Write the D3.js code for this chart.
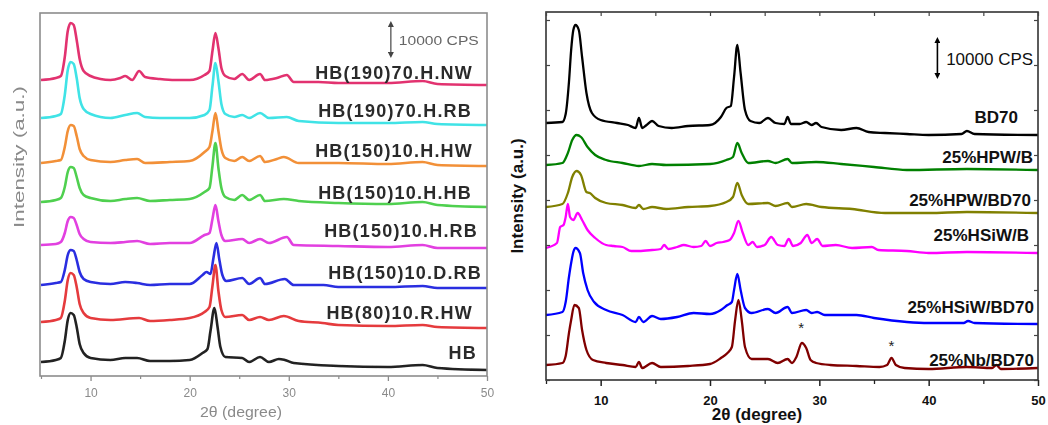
<!DOCTYPE html>
<html><head><meta charset="utf-8">
<script src="https://cdn.jsdelivr.net/npm/d3@7"></script>
<style>body{margin:0;background:#fff}svg{display:block}</style>
</head><body>
<svg id="c" width="1048" height="425"></svg>
<script>
// ---------------- DATA (2θ in degrees, intensity in a.u., stacked) ----------------
const xTicks = [10, 20, 30, 40, 50];
const xMinorTicks = [5, 15, 25, 35, 45];
const scaleBarText = "10000 CPS";
const starMarks = [[28.35, 56], [36.6, 38]]; // asterisks above 25%Nb/BD70 peaks

// Left panel series
const leftNames = ["HB(190)70.H.NW", "HB(190)70.H.RB", "HB(150)10.H.HW", "HB(150)10.H.HB",
                   "HB(150)10.H.RB", "HB(150)10.D.RB", "HB(80)10.R.HW", "HB"];
const hb190NW = [[5,296],[6.5,298],[7,300],[7.4,319],[7.7,345],[8,353],[8.3,351],[8.6,336],[8.9,317],[9.3,305],[10,300],[11,297],[12,296],[13,298],[13.5,300],[14.2,296],[14.9,305],[15.5,299],[17,297],[18.5,296],[20,296],[21.5,301],[22,305],[22.3,325],[22.6,343],[22.9,328],[23.2,308],[23.6,300],[24.5,297],[25.3,302],[26,296],[27.1,302],[27.6,296],[28.8,298],[29.8,301],[30.5,294],[33,294],[35,293],[40,293],[43.5,295],[45,292],[50,291]];
const hb190RB = [[5,258],[6.5,260],[7,262],[7.4,281],[7.7,306],[8,314],[8.3,312],[8.6,298],[8.9,278],[9.3,267],[10,262],[12,258],[13.5,261],[14.7,263],[15.5,259],[17,258],[20,258],[21.5,261],[22,266],[22.3,290],[22.6,313],[22.9,295],[23.2,272],[23.6,262],[24.5,259],[25.3,261],[26,258],[27.1,263],[28,258],[29.8,259],[31,255],[35,253],[40,253],[43.5,254],[45,252],[50,251]];
const hb150HW = [[5,213],[6.5,215],[7,216],[7.4,229],[7.7,245],[8,251],[8.3,250],[8.6,240],[8.9,227],[9.3,220],[10,216],[12,214],[13.5,216],[14.7,217],[15.5,213],[18,214],[20,215],[21.5,224],[22,229],[22.3,245],[22.6,263],[22.9,245],[23.2,227],[23.6,218],[24.5,215],[25.3,219],[26,215],[27.1,220],[27.6,214],[28.8,217],[29.5,219],[31,213],[35,213],[40,212],[43.5,214],[45,211],[50,210]];
const hb150HB = [[5,174],[6.5,176],[7,178],[7.4,189],[7.7,204],[8,209],[8.3,208],[8.6,199],[8.9,188],[9.3,181],[10,178],[12,175],[13.5,177],[14.7,178],[16,175],[18,176],[20,177],[21.5,184],[22,188],[22.3,210],[22.6,233],[22.9,208],[23.2,188],[23.6,179],[24.5,176],[25.3,181],[26,176],[27.1,181],[27.6,175],[29.5,177],[31,175],[35,173],[40,172],[43.5,174],[45,171],[50,169]];
const hb150RB = [[5,131],[6.5,132],[7,134],[7.4,143],[7.7,155],[8,159],[8.3,158],[8.6,151],[8.9,142],[9.3,137],[10,134],[12,133],[13.5,134],[14.7,135],[16,132],[18,133],[20,133],[21.5,141],[22,143],[22.3,157],[22.6,171],[22.9,155],[23.2,141],[23.6,135],[25.3,137],[26,133],[27.1,137],[28,133],[29.8,139],[30.5,131],[35,130],[40,129],[43.5,131],[45,128],[50,128]];
const hb150DRB = [[5,91],[6.5,93],[7,94],[7.4,106],[7.7,121],[8,126],[8.3,125],[8.6,116],[8.9,104],[9.3,97],[10,94],[12,92],[13.5,94],[14.7,93],[16,91],[18,92],[20,92],[21.3,101],[21.7,104],[22.1,102],[22.4,118],[22.7,133],[23,116],[23.3,101],[23.7,95],[25.3,98],[26,92],[27.1,98],[27.6,92],[29.6,97],[30.5,91],[33.5,91],[35,89],[40,89],[43.5,90],[45,88],[50,88]];
const hb80RHW = [[5,54],[6.5,56],[7,58],[7.4,75],[7.7,96],[8,103],[8.3,101],[8.6,89],[8.9,72],[9.3,63],[10,58],[12,56],[14.9,58],[16,55],[18,56],[20,58],[21.5,64],[22,69],[22.3,90],[22.6,111],[22.9,85],[23.2,66],[23.6,59],[25.3,61],[26,56],[27.1,59],[28,56],[29.5,60],[31,55],[33.4,53],[35,51],[40,50],[43.5,51],[45,49],[50,48]];
const hb = [[5,14],[6.5,16],[7,18],[7.4,35],[7.7,56],[8,63],[8.3,61],[8.6,49],[8.9,32],[9.3,23],[10,18],[12,16],[13.5,18],[14.7,18],[16,15],[18,15],[20,16],[21.3,23],[21.8,27],[22.1,45],[22.5,68],[22.8,50],[23.1,29],[23.6,19],[25.3,18],[26,14],[27.1,19],[28,14],[29,17],[29.6,16],[30.5,13],[35,10],[40,9],[43.5,11],[45,8],[50,6]];
const leftSeries = [hb190NW, hb190RB, hb150HW, hb150HB, hb150RB, hb150DRB, hb80RHW, hb];

// Right panel series
const rightNames = ["BD70", "25%HPW/B", "25%HPW/BD70", "25%HSiW/B", "25%HSiW/BD70", "25%Nb/BD70"];
const bd70 = [[5,257],[6.5,258],[6.8,266],[7.1,298],[7.3,330],[7.5,350],[7.7,355],[8,350],[8.3,323],[8.7,287],[9.2,267],[10,260],[11.5,257],[12.5,255],[13.2,252],[13.5,262],[13.8,252],[14.2,255],[14.7,259],[15.3,254],[16.5,252],[18,254],[20,255],[21,263],[21.5,272],[21.9,274],[22.2,303],[22.5,335],[22.8,307],[23.2,270],[23.7,259],[24.5,257],[25.3,262],[26,257],[26.8,256],[27.1,263],[27.4,256],[28.2,256],[28.8,258],[29.3,255],[29.7,257],[30.2,253],[32,250],[33.4,252],[34.5,248],[36,247],[38,246],[40,245],[43,246],[43.5,249],[44.2,246],[50,245]];
const hpwB = [[5,215],[6.5,217],[7,227],[7.4,240],[7.8,245],[8.2,243],[8.8,233],[9.5,225],[10.5,220],[12,217],[13.5,214],[14.7,216],[16,215],[20,216],[21.5,220],[22.1,223],[22.5,237],[22.9,227],[23.5,217],[25.3,219],[26,217],[27.1,221],[27.5,217],[29.7,218],[32,216],[35,213],[38,210],[43.5,211],[50,210]];
const hpwBD70 = [[5,173],[6.5,176],[7,187],[7.4,203],[7.8,209],[8.2,205],[8.7,188],[9,187],[9.5,182],[10.5,177],[12,175],[13.2,172],[13.5,175],[13.9,171],[14.7,173],[16,171],[18,173],[20,174],[21.5,178],[22.1,183],[22.5,197],[22.9,185],[23.5,176],[25.3,177],[26,174],[27.1,177],[27.5,173],[28.8,176],[30.2,173],[33,171],[36,167],[40,167],[43.5,168],[50,167]];
const hsiwB = [[5,132],[6,137],[6.3,153],[6.6,155],[6.8,163],[7,176],[7.2,163],[7.5,160],[7.9,167],[8.3,160],[8.8,150],[9.5,142],[10.5,135],[11.2,134],[12,133],[12.8,129],[13.5,129],[14.7,130],[15.5,131],[15.8,135],[16.2,131],[17,133],[17.6,135],[18.5,133],[19.2,134],[19.6,139],[20,134],[20.6,137],[21.2,138],[21.8,140],[22.2,147],[22.6,159],[23,147],[23.5,135],[23.9,138],[24.3,133],[25,135],[25.6,143],[26.2,135],[26.8,134],[27.2,141],[27.6,134],[28.3,137],[28.9,145],[29.3,137],[29.8,141],[30.3,134],[31.5,135],[33,132],[34.8,133],[35.4,130],[38,129],[40,127],[43.5,128],[50,127]];
const hsiwBD70 = [[5,65],[6.5,68],[6.8,78],[7.1,103],[7.3,117],[7.5,128],[7.7,132],[8.1,127],[8.4,107],[8.8,90],[9.4,78],[10.5,70],[12,65],[13.2,58],[13.5,63],[13.9,58],[14.7,64],[15.5,61],[17,63],[18.5,67],[20,66],[21,70],[21.6,75],[22,78],[22.2,90],[22.5,106],[22.8,90],[23.2,72],[23.8,67],[25.3,71],[26,67],[27.1,73],[27.5,67],[28.8,70],[29.3,67],[29.8,68],[30.5,65],[33.4,65],[35,62],[38,58],[40,57],[43.2,57],[43.6,59],[44.2,57],[50,56]];
const nbBD70 = [[5,15],[6.5,17],[6.8,24],[7.1,47],[7.3,60],[7.6,75],[8,72],[8.3,50],[8.7,30],[9.3,20],[10.5,17],[12,15],[13.2,13],[13.5,18],[13.8,12],[14.7,17],[15.5,13],[18,14],[20,16],[21,22],[21.6,27],[22,33],[22.3,60],[22.6,80],[22.9,60],[23.2,33],[23.8,21],[25.3,21],[26.2,17],[27.1,21],[27.5,17],[27.9,23],[28.4,37],[28.8,32],[29.2,20],[29.7,17],[31,15],[33.4,14],[35.5,13],[36.2,15],[36.6,22],[37,15],[37.8,12],[40,11],[43.5,13],[45.8,12],[46.2,15],[46.6,11],[50,12]];
const rightSeries = [bd70, hpwB, hpwBD70, hsiwB, hsiwBD70, nbBD70];

// ---------------- LAYOUT / STYLE ----------------
const leftColors = ["#e2336f", "#3fe3e6", "#f29038", "#4fd04f", "#e23fe0", "#2b2fe0", "#e53a3e", "#222222"];
const rightColors = ["#000000", "#008000", "#808000", "#ff00ff", "#0000ff", "#800000"];
const leftLabelPos = [[473,79],[472,117],[473,157],[472,199],[478,237],[482,279],[473,319],[477,359]];
const rightLabelPos = [[1018,123],[1033,163],[1031,206],[1029,241],[1034,313],[1034,366]];

const svg = d3.select("#c");
svg.append("rect").attr("width",1048).attr("height",425).attr("fill","#fff");
const defs = svg.append("defs");
defs.append("filter").attr("id","soft").attr("x","-5%").attr("y","-5%").attr("width","110%").attr("height","110%")
  .append("feGaussianBlur").attr("stdDeviation",0.75);
function arrowMarker(id, color){
  defs.append("marker").attr("id",id).attr("viewBox","0 0 10 10").attr("refX",5).attr("refY",5)
    .attr("markerWidth",6).attr("markerHeight",6).attr("orient","auto-start-reverse").attr("markerUnits","userSpaceOnUse")
    .append("path").attr("d","M0,0 L10,5 L0,10 z").attr("fill",color);
}
arrowMarker("arrR","#000");
arrowMarker("arrL","#444");

const FONT = "'Liberation Sans', Arial, Helvetica, sans-serif";

// ================= LEFT PANEL =================
const L = {x0:41, x1:487, y0:13, y1:376};
const xL = d3.scaleLinear().domain([5,50]).range([L.x0, L.x1]);
const yL = d3.scaleLinear().domain([0,363]).range([L.y1, L.y0]);
const gL = svg.append("g").attr("filter","url(#soft)");

const lineL = d3.line().x(d=>xL(d[0])).y(d=>yL(d[1])).curve(d3.curveMonotoneX);
leftSeries.forEach((s,i)=>{
  gL.append("path").datum(s).attr("d",lineL).attr("fill","none")
    .attr("stroke",leftColors[i]).attr("stroke-width",2.6).attr("stroke-linejoin","round");
});
gL.append("rect").attr("x",L.x0-1).attr("y",L.y0).attr("width",L.x1-L.x0+1).attr("height",L.y1-L.y0)
  .attr("fill","none").attr("stroke","#8c8c8c").attr("stroke-width",1.6);
const axL = gL.append("g").attr("transform",`translate(0,${L.y1})`)
  .call(d3.axisBottom(xL).tickValues(xTicks).tickSize(5).tickFormat(d3.format("d")));
axL.select(".domain").remove();
axL.selectAll("line").attr("stroke","#8c8c8c").attr("stroke-width",1.3);
axL.selectAll("text").attr("font-family",FONT).attr("font-size",12).attr("fill","#8a8a8a").attr("dy","1.1em");
const axLm = gL.append("g").attr("transform",`translate(0,${L.y1})`)
  .call(d3.axisBottom(xL).tickValues(xMinorTicks).tickSize(3).tickFormat(""));
axLm.select(".domain").remove();
axLm.selectAll("line").attr("stroke","#8c8c8c").attr("stroke-width",1.2);

gL.append("text").attr("x",241).attr("y",417).attr("text-anchor","middle")
  .attr("font-family",FONT).attr("font-size",14).attr("fill","#8a8a8a")
  .attr("textLength",82).attr("lengthAdjust","spacingAndGlyphs").text("2θ (degree)");
gL.append("text").attr("transform","translate(24,157) rotate(-90)").attr("text-anchor","middle")
  .attr("font-family",FONT).attr("font-size",14).attr("fill","#8a8a8a")
  .attr("textLength",142).attr("lengthAdjust","spacingAndGlyphs").text("Intensity (a.u.)");

leftNames.forEach((n,i)=>{
  gL.append("text").attr("x",leftLabelPos[i][0]).attr("y",leftLabelPos[i][1]).attr("text-anchor","end")
    .attr("font-family",FONT).attr("font-weight","bold").attr("font-size",18).attr("fill","#2c2c2c")
    .attr("letter-spacing","1.2px").text(n);
});
// scale bar (left)
gL.append("line").attr("x1",xL(40.3)).attr("x2",xL(40.3)).attr("y1",yL(352)).attr("y2",yL(321))
  .attr("stroke","#444").attr("stroke-width",1.2)
  .attr("marker-start","url(#arrL)").attr("marker-end","url(#arrL)");
gL.append("text").attr("x",xL(41.1)).attr("y",45).attr("font-family",FONT).attr("font-size",13)
  .attr("fill","#666").attr("textLength",80).attr("lengthAdjust","spacingAndGlyphs").text(scaleBarText);

// ================= RIGHT PANEL =================
const R = {x0:546, x1:1038, y0:12, y1:380};
const xR = d3.scaleLinear().domain([5,50]).range([R.x0, R.x1]);
const yR = d3.scaleLinear().domain([0,368]).range([R.y1, R.y0]);
const gR = svg.append("g");
const lineR = d3.line().x(d=>xR(d[0])).y(d=>yR(d[1])).curve(d3.curveMonotoneX);
rightSeries.forEach((s,i)=>{
  gR.append("path").datum(s).attr("d",lineR).attr("fill","none")
    .attr("stroke",rightColors[i]).attr("stroke-width",2.3).attr("stroke-linejoin","round");
});
gR.append("rect").attr("x",R.x0).attr("y",R.y0).attr("width",R.x1-R.x0).attr("height",R.y1-R.y0)
  .attr("fill","none").attr("stroke","#333").attr("stroke-width",1.6);

const axB = gR.append("g").attr("transform",`translate(0,${R.y1})`)
  .call(d3.axisBottom(xR).tickValues(xTicks).tickSize(6).tickFormat(d3.format("d")));
axB.select(".domain").remove();
axB.selectAll("line").attr("stroke","#222").attr("stroke-width",1.5);
axB.selectAll("text").attr("font-family",FONT).attr("font-weight","bold").attr("font-size",13)
  .attr("fill","#111").attr("dy","1.25em");
const axBm = gR.append("g").attr("transform",`translate(0,${R.y1})`)
  .call(d3.axisBottom(xR).tickValues(xMinorTicks).tickSize(4).tickFormat(""));
axBm.select(".domain").remove();
axBm.selectAll("line").attr("stroke","#222").attr("stroke-width",1.3);
const axT = gR.append("g").attr("transform",`translate(0,${R.y0})`)
  .call(d3.axisTop(xR).tickValues(xTicks.concat(xMinorTicks)).tickSize(-4).tickFormat(""));
axT.select(".domain").remove();
axT.selectAll("line").attr("stroke","#444").attr("stroke-width",1.2);
const yTickVals = d3.range(0, 368, 45);
const axLy = gR.append("g").attr("transform",`translate(${R.x0},0)`)
  .call(d3.axisLeft(yR).tickValues(yTickVals).tickSize(-4).tickFormat(""));
axLy.select(".domain").remove();
axLy.selectAll("line").attr("stroke","#444").attr("stroke-width",1.2);
const axRy = gR.append("g").attr("transform",`translate(${R.x1},0)`)
  .call(d3.axisRight(yR).tickValues(yTickVals).tickSize(-4).tickFormat(""));
axRy.select(".domain").remove();
axRy.selectAll("line").attr("stroke","#444").attr("stroke-width",1.2);

gR.append("text").attr("x",757).attr("y",420).attr("text-anchor","middle")
  .attr("font-family",FONT).attr("font-weight","bold").attr("font-size",17).attr("fill","#111").text("2θ (degree)");
gR.append("text").attr("transform","translate(523,196) rotate(-90)").attr("text-anchor","middle")
  .attr("font-family",FONT).attr("font-weight","bold").attr("font-size",17).attr("fill","#111").text("Intensity (a.u.)");

rightNames.forEach((n,i)=>{
  gR.append("text").attr("x",rightLabelPos[i][0]).attr("y",rightLabelPos[i][1]).attr("text-anchor","end")
    .attr("font-family",FONT).attr("font-weight","bold").attr("font-size",17).attr("fill","#111").text(n);
});
starMarks.forEach(s=>{
  gR.append("text").attr("x",xR(s[0])).attr("y",yR(s[1])+9).attr("text-anchor","middle")
    .attr("font-family",FONT).attr("font-size",15).attr("fill","#222").text("*");
});
// scale bar (right)
gR.append("line").attr("x1",xR(40.8)).attr("x2",xR(40.8)).attr("y1",yR(340)).attr("y2",yR(304))
  .attr("stroke","#000").attr("stroke-width",1.6)
  .attr("marker-start","url(#arrR)").attr("marker-end","url(#arrR)");
gR.append("text").attr("x",xR(41.6)).attr("y",65).attr("font-family",FONT).attr("font-size",17)
  .attr("fill","#111").text(scaleBarText);
</script>
</body></html>
